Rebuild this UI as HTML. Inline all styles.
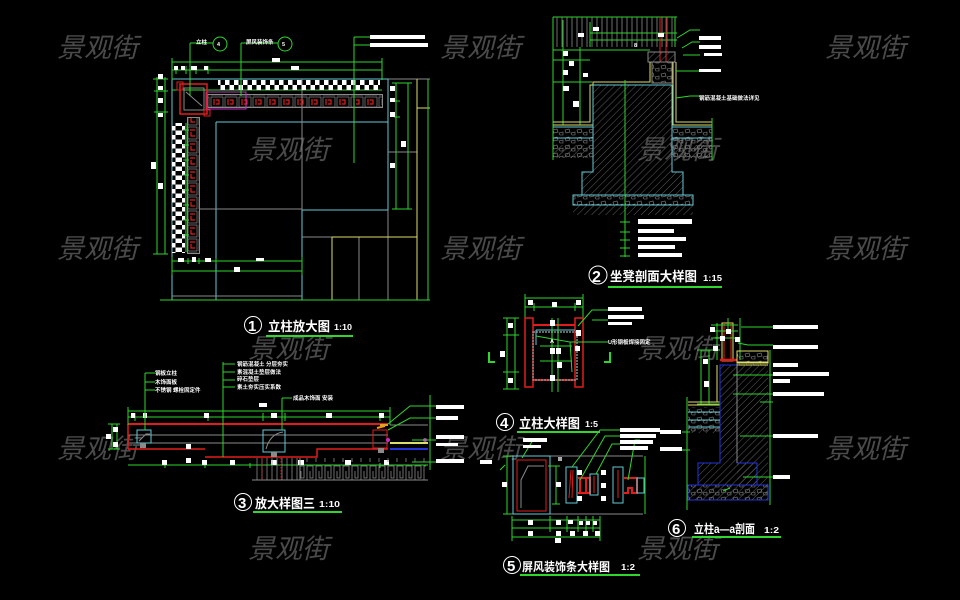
<!DOCTYPE html>
<html><head><meta charset="utf-8">
<style>
html,body{margin:0;padding:0;background:#000;width:960px;height:600px;overflow:hidden}
svg{display:block}
.wm{font-family:"Liberation Sans","Noto Sans CJK SC",sans-serif;font-size:27px;fill:#4a4a4a}
.t{font-family:"Liberation Sans","Noto Sans CJK SC",sans-serif;font-weight:bold;fill:#fff}
.s{font-family:"Liberation Sans","Noto Sans CJK SC",sans-serif;font-size:5.5px;font-weight:bold;fill:#fff}
.g{stroke:#2ed62e;stroke-width:1;fill:none}
.c{stroke:#63c9d6;stroke-width:1;fill:none}
.y{stroke:#dede6a;stroke-width:1;fill:none}
.r{stroke:#e21c1c;stroke-width:1.5;fill:none}
.gr{stroke:#8a8a8a;stroke-width:1;fill:none}
.b{stroke:#2233dd;stroke-width:1;fill:none}
</style></head><body>
<svg width="960" height="600" viewBox="0 0 960 600" xmlns="http://www.w3.org/2000/svg">
<defs>
<pattern id="hatch" width="5" height="5" patternUnits="userSpaceOnUse" patternTransform="rotate(45)">
<line x1="0" y1="0" x2="0" y2="5" stroke="#777" stroke-width="0.8"/></pattern>
<pattern id="stone" width="12" height="8" patternUnits="userSpaceOnUse">
<path d="M1 2 L5 1 L6 4 L2 5 Z M7 5 L11 4 L11 7 L8 7 Z" stroke="#888" stroke-width="0.6" fill="none"/></pattern>
<pattern id="chk" width="9" height="10" patternUnits="userSpaceOnUse">
<rect x="0" y="0" width="4.5" height="5" fill="#fff"/><rect x="4.5" y="5" width="4.5" height="5" fill="#fff"/></pattern>
<pattern id="chkv" width="13" height="9" patternUnits="userSpaceOnUse">
<rect x="0" y="0" width="6.5" height="4.5" fill="#fff"/><rect x="6.5" y="4.5" width="6.5" height="4.5" fill="#fff"/></pattern>
<pattern id="rdec" width="14" height="12" patternUnits="userSpaceOnUse">
<rect x="1" y="1" width="12" height="10" stroke="#8a8a8a" stroke-width="0.7" fill="none"/>
<path d="M4 3 L4 9 M6 4 L9 4 L9 8 L6 8" stroke="#e21c1c" stroke-width="1.2" fill="none"/></pattern>
<pattern id="rdecv" width="11" height="14" patternUnits="userSpaceOnUse">
<rect x="1" y="1" width="9" height="12" stroke="#8a8a8a" stroke-width="0.7" fill="none"/>
<path d="M3 4 L8 4 M4 6 L4 10 L8 10" stroke="#e21c1c" stroke-width="1.2" fill="none"/></pattern>
<pattern id="vlines" width="5" height="10" patternUnits="userSpaceOnUse">
<line x1="2" y1="0" x2="2" y2="10" stroke="#8a8a8a" stroke-width="0.8"/></pattern>
<pattern id="meander" width="9" height="22" patternUnits="userSpaceOnUse">
<path d="M1 22 L1 4 L7 4 L7 16 L4 16 L4 9" stroke="#8a8a8a" stroke-width="0.8" fill="none"/></pattern>
</defs>

<!-- watermarks -->
<g class="wm">
<text transform="translate(57,57) skewX(-14)">景观街</text>
<text transform="translate(440,57) skewX(-14)">景观街</text>
<text transform="translate(825,57) skewX(-14)">景观街</text>
<text transform="translate(248,159) skewX(-14)">景观街</text>
<text transform="translate(637,159) skewX(-14)">景观街</text>
<text transform="translate(57,258) skewX(-14)">景观街</text>
<text transform="translate(440,258) skewX(-14)">景观街</text>
<text transform="translate(825,258) skewX(-14)">景观街</text>
<text transform="translate(248,358) skewX(-14)">景观街</text>
<text transform="translate(637,358) skewX(-14)">景观街</text>
<text transform="translate(57,458) skewX(-14)">景观街</text>
<text transform="translate(440,458) skewX(-14)">景观街</text>
<text transform="translate(825,458) skewX(-14)">景观街</text>
<text transform="translate(248,558) skewX(-14)">景观街</text>
<text transform="translate(637,558) skewX(-14)">景观街</text>
</g>

<!-- ============ DRAWING 1 ============ -->
<g>
<path class="c" d="M172 79 H388 M172 79 V300 M216 122 V300 M216 122 H388 M388 79 V210 M302 210 H388 M302 210 V300"/>
<path class="gr" d="M388 79 H430 M302 79 V210 M200 209 H302 M172 296 H302 M388 210 V300 M388 152 H417 M302 237 H332 M359 237 V300"/>
<path class="y" d="M417 79 V300 M417 108 H430 M332 237 H417 M332 237 V300"/>
<path class="g" d="M160 300 H430 M428 79 V300"/>
<path class="g" d="M396 83 V209 M408 83 V209 M392 83 H412 M392 209 H412 M394 101 H400 M394 117 H400"/>
<rect x="390" y="86" width="5" height="5" fill="#fff"/>
<rect x="390" y="98" width="5" height="4" fill="#fff"/>
<rect x="390" y="112" width="5" height="5" fill="#fff"/>
<rect x="401" y="141" width="5" height="6" fill="#fff"/>
<rect x="390" y="163" width="5" height="5" fill="#fff"/>
<path class="g" d="M172 62 H382 M172 70 H382 M172 58 V80 M382 58 V80 M176 66 V74 M186 66 V74 M196 66 V74 M208 66 V74 M172 90 H382"/>
<rect x="272" y="58" width="8" height="4" fill="#fff"/>
<rect x="174" y="66" width="4" height="4" fill="#fff"/>
<rect x="181" y="66" width="4" height="4" fill="#fff"/>
<rect x="191" y="66" width="6" height="4" fill="#fff"/>
<rect x="204" y="66" width="4" height="4" fill="#fff"/>
<rect x="291" y="66" width="8" height="4" fill="#fff"/>
<path class="g" d="M157 77 V254 M165 77 V254 M153 254 H168 M153 79 H168 M154 91 H168 M154 112 H168"/>
<rect x="158" y="74" width="5" height="5" fill="#fff"/>
<rect x="158" y="86" width="5" height="4" fill="#fff"/>
<rect x="158" y="98" width="5" height="5" fill="#fff"/>
<rect x="158" y="113" width="5" height="4" fill="#fff"/>
<rect x="151" y="162" width="5" height="7" fill="#fff"/>
<rect x="158" y="183" width="5" height="6" fill="#fff"/>
<rect x="218" y="80" width="162" height="10" fill="url(#chk)"/>
<rect x="172" y="123" width="13" height="130" fill="url(#chkv)"/>
<path class="g" d="M186 123 V252 M183 130 H189 M183 145 H189 M183 160 H189 M183 175 H189 M183 190 H189 M183 205 H189 M183 220 H189 M183 235 H189"/>
<rect x="208" y="95" width="174" height="12" fill="url(#rdec)"/>
<rect x="207.5" y="94.5" width="175" height="13" stroke="#8a8a8a" fill="none"/>
<rect x="206" y="92" width="40" height="17" stroke="#c030c0" stroke-width="1" fill="none"/>
<rect x="188" y="118" width="11" height="135" fill="url(#rdecv)"/>
<rect x="187.5" y="117.5" width="12" height="136" stroke="#8a8a8a" fill="none"/>
<rect x="180" y="84" width="27" height="30" class="r"/>
<path class="gr" d="M184 88 H204 V110 H184 Z M186 92 L202 106"/>
<rect x="177" y="82" width="6" height="8" fill="none" stroke="#e21c1c"/>
<rect x="204" y="110" width="6" height="6" fill="none" stroke="#e21c1c"/>
<path class="g" d="M190 43 V96 M190 43 H213 M241 43 V96 M241 43 H278 M354 37 V163 M354 37 H370 M354 45 H370"/>
<circle cx="220" cy="44" r="7" class="g"/>
<circle cx="285" cy="44" r="7" class="g"/>
<text class="s" x="196" y="44">立柱</text>
<text class="s" x="217" y="46" font-size="5">4</text>
<text class="s" x="246" y="44">屏风装饰条</text>
<text class="s" x="282" y="46" font-size="5">5</text>
<rect x="370" y="35" width="55" height="4" fill="#fff"/>
<rect x="370" y="43" width="58" height="4" fill="#fff"/>
<path class="g" d="M172 261 H302 M172 271 H302 M172 257 V275 M302 257 V275 M188 258 V264 M199 258 V264 M216 258 V264"/>
<rect x="178" y="258" width="6" height="4" fill="#fff"/>
<rect x="192" y="257" width="4" height="5" fill="#fff"/>
<rect x="205" y="258" width="6" height="4" fill="#fff"/>
<rect x="256" y="258" width="8" height="3" fill="#fff"/>
<rect x="234" y="267" width="6" height="5" fill="#fff"/>
<circle cx="253" cy="325" r="8.5" stroke="#fff" stroke-width="1" fill="none"/>
<text class="t" x="248" y="331" font-size="15">1</text>
<text class="t" x="268" y="331" font-size="13" textLength="62" lengthAdjust="spacingAndGlyphs">立柱放大图</text>
<text class="t" x="334" y="330" font-size="8" textLength="18" lengthAdjust="spacingAndGlyphs">1:10</text>
<line x1="266" y1="336" x2="353" y2="336" stroke="#2ed62e" stroke-width="2"/>
</g>

<!-- ============ DRAWING 2 ============ -->
<g>
<rect x="555" y="17" width="120" height="30" fill="url(#vlines)"/>
<path class="g" d="M553 17 H677 M553 17 V160 M563 20 V125 M580 47 V125 M553 50 H650 M553 60 H590 M553 82 H592 M590 33 H677 M590 40 H677 M590 22 V47 M675 17 V47"/>
<path d="M660 17 V62 M666 17 V62" stroke="#e21c1c" stroke-width="1"/>
<rect x="563" y="51" width="5" height="5" fill="#fff"/>
<rect x="569" y="61" width="5" height="5" fill="#fff"/>
<rect x="563" y="70" width="5" height="5" fill="#fff"/>
<rect x="578" y="33" width="6" height="4" fill="#fff"/>
<rect x="593" y="27" width="6" height="4" fill="#fff"/>
<rect x="658" y="33" width="6" height="4" fill="#fff"/>
<rect x="563" y="86" width="6" height="5" fill="#fff"/>
<rect x="573" y="101" width="6" height="6" fill="#fff"/>
<rect x="583" y="73" width="5" height="4" fill="#fff"/>
<text class="s" x="634" y="47">8</text>
<rect x="648" y="52" width="27" height="10" fill="url(#hatch)" stroke="#8a8a8a"/>
<rect x="652" y="62" width="20" height="21" fill="url(#stone)" stroke="#8a8a8a"/>
<path class="y" d="M553 125 H593 V82 H650 V62 M553 122 H590 V85 H652 M673 62 V125 H712 M676 62 V122 H712"/>
<path d="M593 85 H672 V172 H683 V195 H582 V172 H593 Z" fill="url(#hatch)" stroke="#63c9d6" stroke-width="1"/>
<rect x="573" y="195" width="120" height="10" fill="url(#stone)" stroke="#63c9d6"/>
<rect x="573" y="205" width="120" height="10" fill="url(#hatch)"/>
<rect x="553" y="127" width="40" height="31" fill="url(#stone)"/>
<rect x="672" y="127" width="40" height="31" fill="url(#stone)"/>
<path class="c" d="M553 138 H593 M672 138 H712 M553 127 H593 M672 127 H712"/>
<rect x="553" y="145" width="40" height="13" fill="url(#hatch)"/>
<rect x="672" y="145" width="40" height="13" fill="url(#hatch)"/>
<path class="g" d="M712 118 V160 M625 80 V257 M620 222 H630 M620 232 H630 M620 240 H630 M620 248 H630 M620 256 H630"/>
<rect x="638" y="219" width="54" height="5" fill="#fff"/>
<rect x="638" y="229" width="36" height="4" fill="#fff"/>
<rect x="638" y="237" width="48" height="4" fill="#fff"/>
<rect x="638" y="245" width="37" height="4" fill="#fff"/>
<rect x="638" y="253" width="44" height="4" fill="#fff"/>
<path class="g" d="M677 38 L690 30 H700 M682 48 L692 42 H700 M683 55 H700 M676 71 H700 M676 98 L690 96 H700"/>
<rect x="699" y="36" width="22" height="4" fill="#fff"/>
<rect x="699" y="45" width="22" height="4" fill="#fff"/>
<rect x="704" y="53" width="18" height="3" fill="#fff"/>
<rect x="699" y="69" width="22" height="3" fill="#fff"/>
<text class="s" x="699" y="100">钢筋混凝土基础做法详见</text>
<circle cx="598" cy="275" r="9" stroke="#fff" stroke-width="1" fill="none"/>
<text class="t" x="592" y="282" font-size="16">2</text>
<text class="t" x="610" y="281" font-size="13" textLength="87" lengthAdjust="spacingAndGlyphs">坐凳剖面大样图</text>
<text class="t" x="703" y="281" font-size="8" textLength="19" lengthAdjust="spacingAndGlyphs">1:15</text>
<line x1="608" y1="287" x2="722" y2="287" stroke="#2ed62e" stroke-width="2"/>
</g>

<!-- ============ DRAWING 3 ============ -->
<g>
<path d="M128 424 H388" stroke="#e21c1c" stroke-width="2"/>
<path class="gr" d="M128 435 H388 M128 443 H388 M390 425 H428"/>
<path d="M128 449 H205 M205 457 H317 V449 H388 M128 424 V449" stroke="#e21c1c" stroke-width="1.5" fill="none"/>
<rect x="137" y="430" width="14" height="13" class="c"/>
<path class="gr" d="M139 441 L146 434 H150"/>
<rect x="263" y="430" width="22" height="22" class="c"/>
<path class="gr" d="M266 449 Q270 434 283 432"/>
<rect x="373" y="430" width="14" height="18" stroke="#e21c1c" fill="none"/>
<rect x="140" y="443" width="6" height="5" fill="#8a8a8a"/>
<rect x="271" y="452" width="6" height="5" fill="#8a8a8a"/>
<rect x="378" y="448" width="6" height="5" fill="#8a8a8a"/>
<path d="M380 425 H388 M377 428 L385 426" stroke="#e7a020" stroke-width="2"/>
<path d="M390 443 H428" stroke="#dede6a" stroke-width="2"/>
<path d="M390 449 H428" stroke="#2233dd" stroke-width="2"/>
<circle cx="425" cy="440" r="2" fill="#c030c0"/>
<circle cx="388" cy="440" r="2" fill="#c030c0"/>
<path class="g" d="M128 411 H390 M128 417 H390 M128 407 V425 M390 407 V425 M135 413 V421 M145 413 V421 M208 413 V421 M263 413 V421 M285 413 V421 M380 413 V421 M128 465 H428 M165 463 V468 M205 463 V468 M250 463 V468 M300 463 V468 M380 463 V468"/>
<rect x="259" y="403" width="8" height="4" fill="#fff"/>
<rect x="131" y="413" width="4" height="5" fill="#fff"/>
<rect x="143" y="413" width="4" height="5" fill="#fff"/>
<rect x="204" y="413" width="5" height="5" fill="#fff"/>
<rect x="271" y="413" width="6" height="5" fill="#fff"/>
<rect x="326" y="413" width="6" height="5" fill="#fff"/>
<rect x="379" y="413" width="5" height="5" fill="#fff"/>
<rect x="162" y="460" width="5" height="5" fill="#fff"/>
<rect x="202" y="460" width="5" height="5" fill="#fff"/>
<rect x="230" y="460" width="5" height="5" fill="#fff"/>
<rect x="271" y="460" width="6" height="5" fill="#fff"/>
<rect x="298" y="460" width="6" height="5" fill="#fff"/>
<rect x="345" y="460" width="6" height="5" fill="#fff"/>
<rect x="384" y="460" width="5" height="5" fill="#fff"/>
<rect x="186" y="444" width="5" height="5" fill="#fff"/>
<rect x="186" y="458" width="5" height="5" fill="#fff"/>
<path class="g" d="M112 424 V449 M117 424 V449 M108 424 H120 M108 449 H120"/>
<rect x="106" y="434" width="5" height="5" fill="#fff"/>
<rect x="113" y="427" width="5" height="5" fill="#fff"/>
<rect x="113" y="442" width="5" height="5" fill="#fff"/>
<rect x="253" y="458" width="45" height="22" fill="url(#vlines)"/>
<rect x="300" y="458" width="126" height="22" fill="url(#meander)"/>
<path class="gr" d="M252 480 H428 M300 458 V480"/>
<path d="M262 458 V480 M281 458 V480" stroke="#e21c1c" stroke-width="0.8" stroke-dasharray="1.5,1.5"/>
<path class="g" d="M145 373 V430 M145 373 H155 M145 382 H155 M145 390 H155 M223 362 V457 M223 364 H235 M223 372 H235 M223 380 H235 M223 387 H235 M282 398 V430 M282 398 H292 M388 424 L410 406 H436 M388 430 L410 418 H436 M430 395 V470 M412 462 H436 M412 440 H436"/>
<text class="s" x="155" y="375">钢板立柱</text>
<text class="s" x="155" y="384">木饰面板</text>
<text class="s" x="155" y="392">不锈钢 螺栓固定件</text>
<text class="s" x="237" y="366">钢筋混凝土 分层夯实</text>
<text class="s" x="237" y="374">素混凝土垫层做法</text>
<text class="s" x="237" y="381">碎石垫层</text>
<text class="s" x="237" y="389">素土夯实压实系数</text>
<text class="s" x="293" y="400">成品木饰面 安装</text>
<rect x="436" y="405" width="28" height="4" fill="#fff"/>
<rect x="436" y="416" width="22" height="4" fill="#fff"/>
<rect x="436" y="435" width="28" height="4" fill="#fff"/>
<rect x="436" y="443" width="22" height="3" fill="#fff"/>
<rect x="436" y="459" width="28" height="4" fill="#fff"/>
<circle cx="243" cy="502" r="8.5" stroke="#fff" stroke-width="1" fill="none"/>
<text class="t" x="238" y="508" font-size="15">3</text>
<text class="t" x="255" y="508" font-size="13" textLength="60" lengthAdjust="spacingAndGlyphs">放大样图三</text>
<text class="t" x="319" y="507" font-size="8" textLength="21" lengthAdjust="spacingAndGlyphs">1:10</text>
<line x1="253" y1="512" x2="342" y2="512" stroke="#2ed62e" stroke-width="2"/>
</g>

<!-- ============ DRAWING 4 ============ -->
<g>
<path class="g" d="M525 298 H583 M525 307 H583 M525 294 V318 M583 294 V318 M534 303 V311 M575 303 V311 M507 318 V389 M515 318 V389 M503 318 H519 M503 389 H519 M503 335 H519 M503 372 H519"/>
<rect x="528" y="300" width="5" height="5" fill="#fff"/>
<rect x="552" y="302" width="5" height="5" fill="#fff"/>
<rect x="576" y="300" width="5" height="5" fill="#fff"/>
<rect x="508" y="323" width="5" height="5" fill="#fff"/>
<rect x="500" y="351" width="5" height="6" fill="#fff"/>
<rect x="508" y="378" width="5" height="5" fill="#fff"/>
<rect x="525" y="318" width="8" height="69" stroke="#e21c1c" stroke-width="1.5" fill="none"/>
<rect x="575" y="318" width="8" height="69" stroke="#e21c1c" stroke-width="1.5" fill="none"/>
<path d="M533 325 H575 M533 380 H575" stroke="#e21c1c" stroke-width="2"/>
<rect x="533" y="332" width="44" height="48" stroke="#8a8a8a" stroke-width="1.5" fill="none" stroke-dasharray="2,1"/>
<path class="c" d="M536 330 H575 M536 330 V345"/>
<path class="g" d="M552 318 V392 M558 318 V392 M540 346 H572 M540 361 H572 M536 336 L570 342 L572 372"/>
<rect x="550" y="320" width="5" height="6" fill="#fff"/>
<rect x="550" y="348" width="5" height="6" fill="#fff"/>
<rect x="556" y="348" width="5" height="6" fill="#fff"/>
<rect x="557" y="362" width="5" height="6" fill="#fff"/>
<rect x="550" y="375" width="5" height="6" fill="#fff"/>
<rect x="576" y="330" width="5" height="6" fill="#fff"/>
<rect x="575" y="346" width="5" height="5" fill="#fff"/>
<text class="s" x="550" y="343">A</text>
<path d="M489 352 V362 H495" stroke="#2ed62e" stroke-width="2" fill="none"/>
<path d="M610 352 V362 H604" stroke="#2ed62e" stroke-width="2" fill="none"/>
<path class="g" d="M578 326 L592 310 H608 M592 320 H608 M570 342 H608"/>
<rect x="608" y="307" width="34" height="4" fill="#fff"/>
<rect x="608" y="315" width="36" height="4" fill="#fff"/>
<rect x="608" y="322" width="24" height="3" fill="#fff"/>
<text class="s" x="608" y="344">U形钢板焊接固定</text>
<circle cx="505" cy="422" r="8.5" stroke="#fff" stroke-width="1" fill="none"/>
<text class="t" x="500" y="428" font-size="15">4</text>
<text class="t" x="519" y="428" font-size="13" textLength="61" lengthAdjust="spacingAndGlyphs">立柱大样图</text>
<text class="t" x="585" y="427" font-size="8" textLength="13" lengthAdjust="spacingAndGlyphs">1:5</text>
<line x1="517" y1="432" x2="600" y2="432" stroke="#2ed62e" stroke-width="2"/>
</g>

<!-- ============ DRAWING 5 ============ -->
<g>
<path class="gr" d="M505 456 H643 M505 514 H643"/>
<rect x="513" y="456" width="37" height="58" class="c"/>
<rect x="517" y="460" width="29" height="51" stroke="#e21c1c" stroke-width="1" fill="none"/>
<path class="gr" d="M521 508 V480 L528 466 H544"/>
<path class="g" d="M507 456 V514 M503 456 H511 M503 514 H511 M522 458 L533 440 H545 M548 466 H553 M556 466 V504 M552 466 H560 M552 504 H560 M645 456 V514"/>
<rect x="502" y="482" width="5" height="5" fill="#fff"/>
<rect x="523" y="438" width="24" height="4" fill="#fff"/>
<rect x="523" y="445" width="18" height="3" fill="#fff"/>
<rect x="556" y="482" width="5" height="5" fill="#fff"/>
<rect x="566" y="467" width="11" height="36" class="c"/>
<path d="M571 470 L569 498 M573 470 L572 498" stroke="#e21c1c" stroke-width="1"/>
<path d="M577 478 H590 V493 H577 M580 478 V493 M586 478 V493" stroke="#e21c1c" stroke-width="2" fill="none"/>
<rect x="590" y="474" width="8" height="21" class="c"/>
<path d="M594 476 V493" stroke="#e21c1c" stroke-width="1"/>
<rect x="613" y="467" width="10" height="36" class="c"/>
<path d="M618 470 V498" stroke="#e21c1c" stroke-width="1"/>
<path d="M623 478 H637 V493 H632 V488 H628 V493 H623" stroke="#e21c1c" stroke-width="2" fill="none"/>
<rect x="637" y="478" width="7" height="15" class="c"/>
<rect x="577" y="470" width="5" height="5" fill="#fff"/>
<rect x="577" y="496" width="5" height="5" fill="#fff"/>
<rect x="601" y="470" width="5" height="5" fill="#fff"/>
<rect x="601" y="483" width="5" height="5" fill="#fff"/>
<rect x="601" y="496" width="5" height="5" fill="#fff"/>
<rect x="558" y="457" width="4" height="4" fill="#aaa"/>
<path class="g" d="M572 467 L600 430 H620 M580 480 L605 436 H620 M596 474 L612 444 H620 M628 480 L635 440 H640 M500 470 L505 465"/>
<rect x="620" y="428" width="40" height="4" fill="#fff"/>
<rect x="620" y="434" width="36" height="4" fill="#fff"/>
<rect x="620" y="440" width="33" height="4" fill="#fff"/>
<rect x="620" y="446" width="28" height="4" fill="#fff"/>
<path class="g" d="M512 520 H600 M512 528 H600 M512 537 H600 M512 516 V541 M550 516 V532 M567 516 V532 M578 516 V532 M586 516 V532 M593 516 V532 M600 516 V541"/>
<rect x="528" y="520" width="5" height="5" fill="#fff"/>
<rect x="556" y="520" width="5" height="5" fill="#fff"/>
<rect x="568" y="520" width="5" height="4" fill="#fff"/>
<rect x="579" y="521" width="4" height="4" fill="#fff"/>
<rect x="586" y="521" width="4" height="4" fill="#fff"/>
<rect x="593" y="521" width="4" height="4" fill="#fff"/>
<rect x="528" y="531" width="5" height="5" fill="#fff"/>
<rect x="556" y="531" width="5" height="5" fill="#fff"/>
<rect x="570" y="531" width="5" height="5" fill="#fff"/>
<rect x="583" y="531" width="5" height="5" fill="#fff"/>
<rect x="595" y="531" width="5" height="5" fill="#fff"/>
<rect x="555" y="538" width="6" height="5" fill="#fff"/>
<rect x="480" y="460" width="12" height="4" fill="#fff"/>
<circle cx="512" cy="565" r="8.5" stroke="#fff" stroke-width="1" fill="none"/>
<text class="t" x="507" y="571" font-size="15">5</text>
<text class="t" x="522" y="571" font-size="12" textLength="88" lengthAdjust="spacingAndGlyphs">屏风装饰条大样图</text>
<text class="t" x="621" y="570" font-size="8" textLength="14" lengthAdjust="spacingAndGlyphs">1:2</text>
<line x1="520" y1="575" x2="640" y2="575" stroke="#2ed62e" stroke-width="2"/>
</g>

<!-- ============ DRAWING 6 ============ -->
<g>
<rect x="722" y="323" width="11" height="38" stroke="#dede6a" fill="none"/>
<path d="M724 323 V360 M731 323 V360" stroke="#e21c1c" stroke-width="1"/>
<path d="M720 360 H737" stroke="#e21c1c" stroke-width="2.5"/>
<path class="g" d="M711 325 H738 M711 331 H738 M711 338 H738 M717 323 V360 M728 318 V330 M740 318 V360 M701 350 V404 M709 350 V404 M697 350 H720 M697 404 H720"/>
<rect x="710" y="327" width="5" height="5" fill="#fff"/>
<rect x="726" y="329" width="5" height="5" fill="#fff"/>
<rect x="720" y="336" width="5" height="5" fill="#fff"/>
<rect x="735" y="337" width="5" height="5" fill="#fff"/>
<rect x="713" y="346" width="5" height="5" fill="#fff"/>
<rect x="703" y="359" width="5" height="5" fill="#fff"/>
<rect x="704" y="381" width="5" height="6" fill="#fff"/>
<rect x="737" y="351" width="31" height="12" fill="url(#stone)" stroke="#dede6a"/>
<path class="y" d="M737 362 H768 M737 365 H768 M720 365 V405 M717 365 V402 M688 402 H720 M688 405 H720"/>
<path d="M737 363 H768 V485 H737 Z" fill="url(#hatch)"/>
<path d="M720 365 H737 V463 H757 V485 H698 V463 H720 Z" fill="url(#hatch)" stroke="#2233dd" stroke-width="1"/>
<path class="gr" d="M737 363 V463"/>
<rect x="688" y="485" width="80" height="15" fill="url(#stone)" stroke="#2233dd"/>
<rect x="688" y="485" width="80" height="15" fill="url(#hatch)"/>
<rect x="688" y="407" width="32" height="25" fill="url(#stone)"/>
<path class="c" d="M688 412 H720 M688 420 H720 M688 427 H720"/>
<rect x="688" y="427" width="32" height="6" fill="url(#hatch)"/>
<path class="g" d="M687 397 V510 M770 350 V505 M733 375 H773 M733 394 H773 M760 402 H773 M740 436 H773 M743 477 H773 M738 343 L748 345 H773 M741 327 H773 M682 432 H690 M682 450 H690 M723 491 L730 488"/>
<rect x="773" y="325" width="45" height="4" fill="#fff"/>
<rect x="773" y="345" width="45" height="4" fill="#fff"/>
<rect x="773" y="363" width="25" height="4" fill="#fff"/>
<rect x="773" y="372" width="56" height="4" fill="#fff"/>
<rect x="773" y="379" width="17" height="4" fill="#fff"/>
<rect x="773" y="392" width="51" height="4" fill="#fff"/>
<rect x="773" y="434" width="45" height="4" fill="#fff"/>
<rect x="773" y="475" width="17" height="4" fill="#fff"/>
<rect x="660" y="430" width="21" height="4" fill="#fff"/>
<rect x="660" y="447" width="22" height="4" fill="#fff"/>
<circle cx="677" cy="528" r="8.5" stroke="#fff" stroke-width="1" fill="none"/>
<text class="t" x="672" y="534" font-size="15">6</text>
<text class="t" x="694" y="533" font-size="12" textLength="61" lengthAdjust="spacingAndGlyphs">立柱a—a剖面</text>
<text class="t" x="764" y="533" font-size="8" textLength="15" lengthAdjust="spacingAndGlyphs">1:2</text>
<line x1="692" y1="537" x2="781" y2="537" stroke="#2ed62e" stroke-width="2"/>
</g>
</svg>
</body></html>
